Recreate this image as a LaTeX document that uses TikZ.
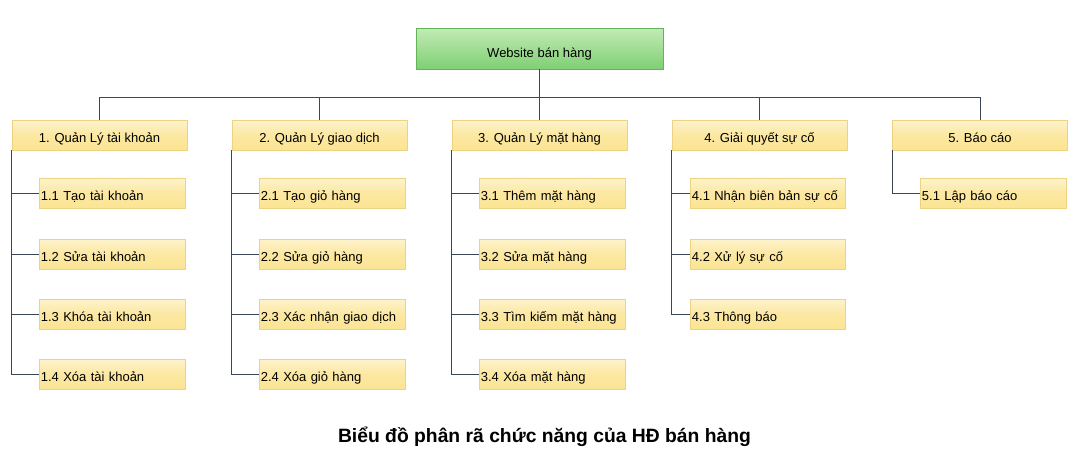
\documentclass[tikz,border=0pt]{standalone}
\usepackage{fontspec}
\setmainfont{Liberation Sans}
\definecolor{rootTop}{HTML}{C2EBB5}
\definecolor{rootBot}{HTML}{7FCF74}
\definecolor{rootBorder}{HTML}{62B556}
\definecolor{yTop}{HTML}{FDF3CC}
\definecolor{yMid}{HTML}{FCE8A2}
\definecolor{yBot}{HTML}{FBE493}
\definecolor{yBorder}{HTML}{EDD283}
\definecolor{lineC}{HTML}{3A4757}
\begin{document}
\begin{tikzpicture}[x=1pt,y=-1pt,
  rootbox/.style={draw=rootBorder, line width=0.8pt, top color=rootTop, bottom color=rootBot,
    minimum width=247pt, minimum height=41pt, inner sep=0pt, text height=18.4pt, text depth=0pt,
    font=\fontsize{13}{15}\selectfont},
  grpbox/.style={draw=yBorder, line width=0.8pt, top color=yTop, bottom color=yBot, middle color=yMid,
    minimum width=175pt, minimum height=30pt, inner sep=0pt, text height=14.2pt, text depth=0pt,
    font=\fontsize{13}{15}\selectfont},
  leafbox/.style={draw=yBorder, line width=0.8pt, top color=yTop, bottom color=yBot, middle color=yMid,
    text width=#1, align=left, inner xsep=1.5pt, inner ysep=0pt, minimum height=30pt, anchor=west,
    text height=14pt, text depth=0pt, font=\fontsize{13}{15}\selectfont},
  conn/.style={draw=lineC, line width=0.8pt},
  caption/.style={font=\bfseries\fontsize{19.3}{22}\selectfont}]
\useasboundingbox (0,0) rectangle (1076,464);

\node[rootbox] (root) at (539.5,48.5) {Website bán hàng};

\node[grpbox] (g1) at (99.5,135) {1. Quản Lý tài khoản};
\node[grpbox] (g2) at (319.5,135) {2. Quản Lý giao dịch};
\node[grpbox] (g3) at (539.5,135) {3. Quản Lý mặt hàng};
\node[grpbox] (g4) at (759.5,135) {4. Giải quyết sự cố};
\node[grpbox] (g5) at (980,135) {5. Báo cáo};

\node[leafbox=143pt] (l11) at (39,193) {1.1 Tạo tài khoản};
\node[leafbox=143pt] (l12) at (39,254) {1.2 Sửa tài khoản};
\node[leafbox=143pt] (l13) at (39,314) {1.3 Khóa tài khoản};
\node[leafbox=143pt] (l14) at (39,374) {1.4 Xóa tài khoản};

\node[leafbox=143pt] (l21) at (259,193) {2.1 Tạo giỏ hàng};
\node[leafbox=143pt] (l22) at (259,254) {2.2 Sửa giỏ hàng};
\node[leafbox=143pt] (l23) at (259,314) {2.3 Xác nhận giao dịch};
\node[leafbox=143pt] (l24) at (259,374) {2.4 Xóa giỏ hàng};

\node[leafbox=143pt] (l31) at (479,193) {3.1 Thêm mặt hàng};
\node[leafbox=143pt] (l32) at (479,254) {3.2 Sửa mặt hàng};
\node[leafbox=143pt] (l33) at (479,314) {3.3 Tìm kiếm mặt hàng};
\node[leafbox=143pt] (l34) at (479,374) {3.4 Xóa mặt hàng};

\node[leafbox=152pt] (l41) at (690,193) {4.1 Nhận biên bản sự cố};
\node[leafbox=152pt] (l42) at (690,254) {4.2 Xử lý sự cố};
\node[leafbox=152pt] (l43) at (690,314) {4.3 Thông báo};

\node[leafbox=143pt] (l51) at (920,193) {5.1 Lập báo cáo};

\coordinate (bus) at (539.5,97);
\draw[conn] (root.south) -- (bus);
\foreach \g in {g1,g2,g3,g4,g5} { \draw[conn] (\g.north) |- (bus); }

\foreach \g/\l in {g1/l11,g1/l12,g1/l13,g1/l14,g2/l21,g2/l22,g2/l23,g2/l24,
  g3/l31,g3/l32,g3/l33,g3/l34,g4/l41,g4/l42,g4/l43,g5/l51}
  { \draw[conn] (\g.south west) |- (\l.west); }

\node[caption] (cap) at (544.5,437) {Biểu đồ phân rã chức năng của HĐ bán hàng};
\end{tikzpicture}
\end{document}
